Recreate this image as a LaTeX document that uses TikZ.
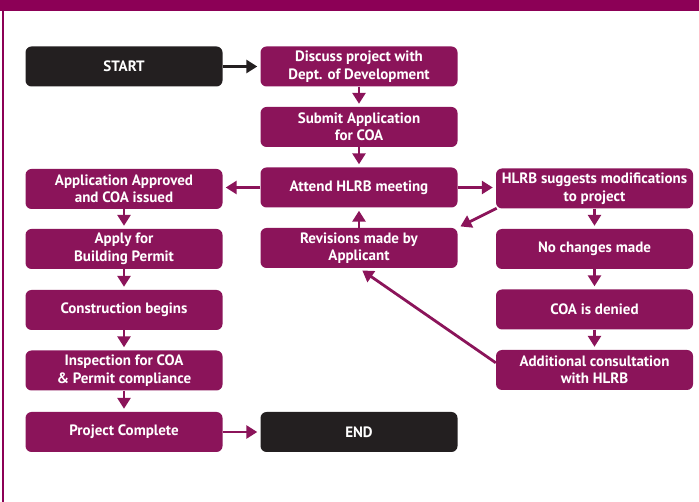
\documentclass[tikz,border=0pt]{standalone}
\usepackage{fontspec}
\setmainfont{PT Sans}
\usetikzlibrary{arrows.meta}
\definecolor{mag}{RGB}{139,20,90}
\definecolor{barmag}{RGB}{140,0,86}
\definecolor{blk}{RGB}{35,31,32}
\begin{document}
\begin{tikzpicture}[x=1pt,y=-1pt,
  box/.style={fill=mag,text=white,rounded corners=6pt,minimum width=197pt,minimum height=40pt,inner sep=0pt,
    align=center,font=\bfseries\fontsize{15}{17.5}\selectfont},
  blackbox/.style={box,fill=blk},
  arr/.style={draw=mag,line width=2.8pt,-{Triangle[width=13pt,length=11pt]},shorten >=3pt},
  barr/.style={arr,draw=blk}]
\useasboundingbox (0,0) rectangle (699,502);
\fill[barmag] (0,0) rectangle (699,11);
\fill[barmag] (1.5,0) rectangle (4,502);
% left column
\node[blackbox] (start) at (124,66.5) {START};
\node[box] (appr) at (124,189) {Application Approved\\and COA issued};
\node[box] (apply) at (124,249) {Apply for\\Building Permit};
\node[box] (constr) at (124,310) {Construction begins};
\node[box] (insp) at (124,370.5) {Inspection for COA\\\& Permit compliance};
\node[box] (compl) at (124,432) {Project Complete};
% middle column
\node[box] (disc) at (359,66.5) {Discuss project with\\Dept. of Development};
\node[box] (subm) at (359,127) {Submit Application\\for COA};
\node[box] (attend) at (359,187.5) {Attend HLRB meeting};
\node[box] (rev) at (359,248) {Revisions made by\\Applicant};
\node[blackbox] (endn) at (359,432) {END};
% right column
\node[box] (sugg) at (594.5,188.5) {HLRB suggests modifications\\to project};
\node[box] (noch) at (594.5,249) {No changes made};
\node[box] (deny) at (594.5,309.5) {COA is denied};
\node[box] (addc) at (594.5,370) {Additional consultation\\with HLRB};
% arrows
\draw[barr] (start) -- (disc);
\draw[arr] (disc) -- (subm);
\draw[arr] (subm) -- (attend);
\draw[arr] (attend) -- (appr.east |- attend);
\draw[arr] (attend) -- (sugg.west |- attend);
\draw[arr] (rev) -- (attend);
\draw[arr] (appr) -- (apply);
\draw[arr] (apply) -- (constr);
\draw[arr] (constr) -- (insp);
\draw[arr] (insp) -- (compl);
\draw[arr] (compl) -- (endn);
\draw[arr] (sugg) -- (noch);
\draw[arr] (noch) -- (deny);
\draw[arr] (deny) -- (addc);
\draw[arr,shorten <=-1pt] (sugg.south west) -- (rev.north east);
\draw[arr,shorten >=4pt] ([yshift=-13pt]addc.north west) -- (rev.south);
\end{tikzpicture}
\end{document}
